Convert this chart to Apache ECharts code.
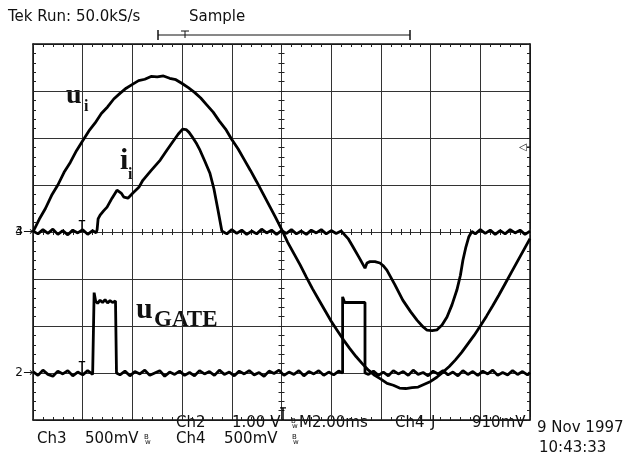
<!DOCTYPE html>
<html lang="en">
<head>
<meta charset="utf-8" />
<title>Tek scope capture</title>
<script src="https://cdn.jsdelivr.net/npm/echarts@6/dist/echarts.min.js"></script>
</head>
<body style="margin:0;background:#fff">
<div id="main" style="width:631px;height:455px"></div>
<script>
// all values in screen divisions: x 0..10 (2.00 ms/div), y -4..4 (centre line = Ch3 ground)
var uiTrace = [
  [0,0],[0.125,0.27],[0.25,0.5],[0.375,0.78],[0.5,1.0],[0.625,1.27],[0.75,1.48],[0.875,1.73],
  [1,1.94],[1.125,2.15],[1.25,2.32],[1.375,2.52],[1.5,2.66],[1.625,2.83],[1.75,2.95],[1.875,3.06],
  [2,3.14],[2.125,3.22],[2.25,3.25],[2.375,3.31],[2.5,3.3],[2.625,3.32],[2.75,3.27],[2.875,3.24],
  [3,3.16],[3.125,3.07],[3.25,2.97],[3.375,2.85],[3.5,2.7],[3.625,2.55],[3.75,2.36],[3.875,2.19],
  [4,1.97],[4.125,1.77],[4.25,1.54],[4.375,1.31],[4.5,1.07],[4.625,0.82],[4.75,0.57],[4.875,0.32],
  [5,0.06],[5.125,-0.22],[5.25,-0.46],[5.375,-0.7],[5.5,-0.96],[5.625,-1.21],[5.75,-1.44],[5.875,-1.67],
  [6,-1.9],[6.125,-2.1],[6.25,-2.3],[6.375,-2.48],[6.5,-2.65],[6.625,-2.8],[6.75,-2.94],[6.875,-3.05],
  [7,-3.13],[7.125,-3.22],[7.25,-3.26],[7.375,-3.32],[7.5,-3.33],[7.625,-3.31],[7.75,-3.3],[7.875,-3.24],
  [8,-3.18],[8.125,-3.09],[8.25,-2.98],[8.375,-2.86],[8.5,-2.72],[8.625,-2.56],[8.75,-2.38],[8.875,-2.2],
  [9,-2.0],[9.125,-1.79],[9.25,-1.57],[9.375,-1.34],[9.5,-1.1],[9.625,-0.86],[9.75,-0.62],[9.875,-0.38],
  [10,-0.14]
];

var iiTrace = [
  [0,0.02],[0.1,-0.04],[0.2,0.05],[0.3,-0.03],[0.4,0.06],[0.5,-0.05],[0.6,0.03],[0.7,-0.06],
  [0.8,0.04],[0.9,-0.02],[1.0,0.05],[1.1,-0.05],[1.2,0.03],[1.27,-0.02],
  [1.29,0.05],[1.31,0.28],[1.35,0.36],[1.42,0.45],[1.49,0.53],[1.59,0.72],[1.69,0.89],[1.73,0.92],
  [1.78,0.82],[1.83,0.74],[1.91,0.72],[2.01,0.83],[2.13,0.95],[2.21,1.1],[2.37,1.3],[2.56,1.53],
  [2.7,1.75],[2.82,1.93],[2.92,2.08],[3.01,2.19],[3.08,2.18],[3.14,2.12],[3.2,2.03],[3.28,1.9],
  [3.36,1.74],[3.46,1.5],[3.56,1.25],[3.64,0.92],[3.72,0.48],[3.8,0.02],
  [3.9,-0.04],[4.0,0.05],[4.1,-0.03],[4.2,0.04],[4.3,-0.05],[4.4,0.02],[4.5,-0.04],[4.6,0.06],
  [4.7,-0.02],[4.8,0.04],[4.9,-0.05],[5.0,0.03],[5.1,-0.03],[5.2,0.05],[5.3,-0.04],[5.4,0.02],
  [5.5,-0.05],[5.6,0.04],[5.7,-0.02],[5.8,0.05],[5.9,-0.04],[6.0,0.03],[6.1,-0.03],[6.2,0.02],
  [6.24,0],[6.34,-0.14],[6.44,-0.32],[6.56,-0.54],[6.68,-0.77],[6.72,-0.66],[6.78,-0.63],[6.88,-0.63],
  [6.98,-0.66],[7.05,-0.72],[7.12,-0.81],[7.28,-1.12],[7.44,-1.45],[7.6,-1.7],[7.73,-1.88],[7.85,-2.02],
  [7.93,-2.09],[8.03,-2.1],[8.13,-2.08],[8.23,-1.98],[8.33,-1.81],[8.43,-1.55],[8.53,-1.23],[8.6,-0.92],
  [8.65,-0.6],[8.71,-0.32],[8.77,-0.1],[8.83,0.01],
  [8.9,-0.04],[9.0,0.05],[9.1,-0.03],[9.2,0.04],[9.3,-0.05],[9.4,0.03],[9.5,-0.04],[9.6,0.05],
  [9.7,-0.02],[9.8,0.04],[9.9,-0.05],[10,0.02]
];

var gateTrace = [
  [0,-2.97],[0.1,-3.05],[0.2,-2.94],[0.3,-3.03],[0.4,-3.07],[0.5,-2.96],[0.6,-3.02],[0.7,-2.95],
  [0.8,-3.06],[0.9,-2.98],[1.0,-3.04],[1.1,-2.95],[1.2,-3.03],
  [1.23,-3.0],[1.23,-1.29],[1.26,-1.47],[1.3,-1.52],[1.35,-1.45],[1.4,-1.5],[1.45,-1.44],[1.5,-1.51],
  [1.55,-1.46],[1.6,-1.5],[1.66,-1.47],[1.68,-1.49],[1.68,-3.0],
  [1.75,-3.04],[1.85,-2.96],[1.95,-3.06],[2.05,-2.97],[2.15,-3.02],[2.25,-2.94],[2.35,-3.05],[2.45,-3.0],
  [2.55,-2.95],[2.65,-3.07],[2.75,-2.98],[2.85,-3.03],[2.95,-2.96],[3.05,-3.05],[3.15,-2.99],[3.25,-3.06],
  [3.35,-2.95],[3.45,-3.02],[3.55,-2.97],[3.65,-3.05],[3.75,-2.94],[3.85,-3.03],[3.95,-2.98],[4.05,-3.06],
  [4.15,-2.96],[4.25,-3.02],[4.35,-2.95],[4.45,-3.04],[4.55,-2.99],[4.65,-3.07],[4.75,-2.96],[4.85,-3.01],
  [4.95,-2.94],[5.05,-3.05],[5.15,-2.98],[5.25,-3.03],[5.35,-2.95],[5.45,-3.06],[5.55,-2.97],[5.65,-3.02],
  [5.75,-2.95],[5.85,-3.05],[5.95,-2.98],[6.05,-3.04],[6.15,-2.96],
  [6.23,-3.0],[6.23,-1.38],[6.27,-1.5],[6.68,-1.5],[6.68,-3.0],
  [6.75,-3.03],[6.85,-2.96],[6.95,-3.05],[7.05,-2.98],[7.15,-3.06],[7.25,-2.95],[7.35,-3.02],[7.45,-2.97],
  [7.55,-3.05],[7.65,-2.94],[7.75,-3.03],[7.85,-2.99],[7.95,-3.06],[8.05,-2.96],[8.15,-3.02],[8.25,-2.95],
  [8.35,-3.04],[8.45,-2.98],[8.55,-3.06],[8.65,-2.95],[8.75,-3.03],[8.85,-2.97],[8.95,-3.05],[9.05,-2.96],
  [9.15,-3.02],[9.25,-2.94],[9.35,-3.05],[9.45,-2.99],[9.55,-3.04],[9.65,-2.95],[9.75,-3.03],[9.85,-2.97],
  [9.95,-3.04],[10,-2.99]
];

// small cursor marks (trigger level "T" on ch3 / ch2, trigger position on bottom edge)
var trigMarkCh3 = [[0.985,0],[0.985,0.24]];
var trigBarCh3 = [[0.92,0.24],[1.05,0.24]];
var trigMarkCh2 = [[0.985,-3],[0.985,-2.76]];
var trigBarCh2 = [[0.92,-2.76],[1.05,-2.76]];
var trigPosMark = [[5.03,-4],[5.03,-3.74]];
var trigPosBar = [[4.97,-3.74],[5.09,-3.74]];

var headerTexts = [['Tek Run: 50.0kS/s', 8], ['Sample', 189]];
var footRow1 = [['Ch2', 176], ['1.00 V', 232], ['M2.00ms', 299], ['Ch4', 395], ['J', 431], ['910mV', 472]];
var footRow2 = [['Ch3', 37], ['500mV', 85], ['Ch4', 176], ['500mV', 224]];
var bwMarks = [[291, 423], [144, 439], [292, 439]];
var dateText = ['9 Nov 1997', '10:43:33'];

var ink = '#111';
var scopeFont = '15px "DejaVu Sans"';
var serifBold = 'bold {s}px "Liberation Serif"';

function sfont(size) { return serifBold.replace('{s}', size); }

function txt(x, y, s, font, align) {
    return {
        type: 'text', x: x, y: y, silent: true,
        style: { text: s, font: font, fill: ink, textAlign: align || 'left', textVerticalAlign: 'middle' }
    };
}
function seg(x1, y1, x2, y2, w) {
    return { type: 'line', silent: true, shape: { x1: x1, y1: y1, x2: x2, y2: y2 }, style: { stroke: ink, lineWidth: w || 1.2 } };
}

var tickStyle = { color: '#222', width: 1 };
function xAx(pos, onZero, inside, split) {
    return {
        type: 'value', min: 0, max: 10, interval: 1, position: pos,
        axisLine: { show: !onZero, onZero: onZero, onZeroAxisIndex: 0, lineStyle: { color: ink, width: 1.5 } },
        axisTick: { show: true, inside: inside, length: 3, lineStyle: tickStyle },
        minorTick: { show: true, splitNumber: 5, length: 3, lineStyle: tickStyle },
        splitLine: { show: split, lineStyle: { color: '#333', width: 1 } },
        axisLabel: { show: false }
    };
}
function yAx(pos, offset, inside, split) {
    return {
        type: 'value', min: -4, max: 4, interval: 1, position: pos, offset: offset,
        axisLine: { show: offset === 0, onZero: false, lineStyle: { color: ink, width: 1.5 } },
        axisTick: { show: true, inside: inside, length: 3, lineStyle: tickStyle },
        minorTick: { show: true, splitNumber: 5, length: 3, lineStyle: tickStyle },
        splitLine: { show: split, lineStyle: { color: '#333', width: 1 } },
        axisLabel: { show: false }
    };
}
function trace(data, w) {
    return {
        type: 'line', data: data, showSymbol: false, silent: true, animation: false,
        lineStyle: { color: '#000', width: w }, z: 5
    };
}

var graphics = [];
headerTexts.forEach(function (t) { graphics.push(txt(t[1], 17, t[0], scopeFont)); });
footRow1.forEach(function (t) { graphics.push(txt(t[1], 423, t[0], scopeFont)); });
footRow2.forEach(function (t) { graphics.push(txt(t[1], 439, t[0], scopeFont)); });
bwMarks.forEach(function (b) { graphics.push(txt(b[0], b[1] - 2, 'B', '7px "DejaVu Sans"')); graphics.push(txt(b[0] + 1, b[1] + 3, 'w', '7px "DejaVu Sans"')); });
graphics.push(txt(537, 428, dateText[0], scopeFont));
graphics.push(txt(539, 448, dateText[1], scopeFont));
// record-length bar
graphics.push(seg(158, 35, 410, 35, 1));
graphics.push(seg(158, 30, 158, 40, 1.5));
graphics.push(seg(410, 30, 410, 40, 1.5));
graphics.push(seg(185, 31, 185, 38, 1));
graphics.push(seg(181, 31, 189, 31, 1));
// channel ground markers ("4" and "3" sit on top of each other)
graphics.push(txt(23, 232, '4', '12px "DejaVu Sans"', 'right'));
graphics.push(txt(33, 232, '3→', '12px "DejaVu Sans"', 'right'));
graphics.push(txt(33, 373, '2→', '12px "DejaVu Sans"', 'right'));
graphics.push(txt(519, 147, '◁', '10px "DejaVu Sans"'));
graphics.push(seg(527, 147, 530, 147, 1));
// trace labels
graphics.push(txt(66, 96, 'u', sfont(28)));
graphics.push(txt(84, 107, 'i', sfont(16)));
graphics.push(txt(120, 161, 'i', sfont(30)));
graphics.push(txt(128, 175, 'i', sfont(16)));
graphics.push(txt(136, 310, 'u', sfont(30)));
graphics.push(txt(154, 320, 'GATE', sfont(23)));

var chart = echarts.init(document.getElementById('main'), null, { renderer: 'canvas' });
chart.setOption({
    animation: false,
    backgroundColor: '#fff',
    grid: { left: 33, top: 44, width: 497, height: 376, containLabel: false },
    xAxis: [xAx('bottom', false, true, true), xAx('top', false, true, false),
            xAx('bottom', true, true, false), xAx('bottom', true, false, false)],
    yAxis: [yAx('left', 0, true, true), yAx('right', 0, true, false),
            yAx('left', -248.5, true, false), yAx('left', -248.5, false, false)],
    series: [
        trace(uiTrace, 2.8), trace(iiTrace, 2.8), trace(gateTrace, 2.8),
        trace(trigMarkCh3, 1.2), trace(trigBarCh3, 1.2),
        trace(trigMarkCh2, 1.2), trace(trigBarCh2, 1.2),
        trace(trigPosMark, 1.5), trace(trigPosBar, 1.2)
    ],
    graphic: graphics
});
</script>
</body>
</html>
